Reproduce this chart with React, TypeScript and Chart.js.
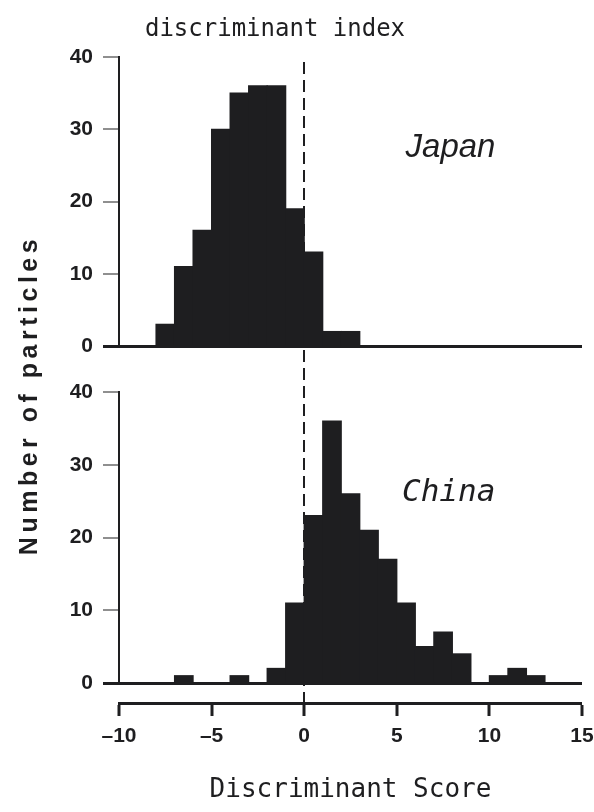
import React, { useEffect, useRef } from "react";
import { Chart, registerables } from "chart.js";

Chart.register(...registerables);

// Histogram bins (left edge of each unit-wide bin)
const binStarts = [-10, -9, -8, -7, -6, -5, -4, -3, -2, -1, 0, 1, 2, 3, 4, 5, 6, 7, 8, 9, 10, 11, 12, 13, 14];
// Number of particles per bin
const japanCounts = [0, 0, 3, 11, 16, 30, 35, 36, 36, 19, 13, 2, 2, 0, 0, 0, 0, 0, 0, 0, 0, 0, 0, 0, 0];
const chinaCounts = [0, 0, 0, 1, 0, 0, 1, 0, 2, 11, 23, 36, 26, 21, 17, 11, 5, 7, 4, 0, 1, 2, 1, 0, 0];

const xMin = -10;
const xMax = 15;
const yMin = 0;
const yMax = 40;
const chartTitle = "discriminant index";
const xTitle = "Discriminant Score";
const yTitle = "Number of particles";
const panelLabels = [
  { text: "Japan", axis: "yJ", x: 7.9, y: 27.4 },
  { text: "China", axis: "yC", x: 7.8, y: 26.1 },
];

const INK = "#1e1e20";
const tickFont = {
  family: "'Liberation Sans', Arial, sans-serif",
  weight: "bold" as const,
  size: 21,
};

const isZero = (ctx: any) => ctx && ctx.tick && ctx.tick.value === 0;

const freeText = {
  id: "freeText",
  afterDraw(chart: any) {
    const { ctx, scales } = chart;
    ctx.save();
    ctx.fillStyle = INK;
    ctx.textAlign = "center";
    ctx.textBaseline = "middle";

    ctx.font = "24px 'DejaVu Sans Mono', monospace";
    ctx.fillText(chartTitle, 275, 30);

    panelLabels.forEach((p) => {
      ctx.font =
        p.text === "Japan"
          ? "italic 33px 'Liberation Sans', Arial, sans-serif"
          : "italic 31px 'DejaVu Sans Mono', monospace";
      ctx.fillText(p.text, scales.x.getPixelForValue(p.x), scales[p.axis].getPixelForValue(p.y));
    });

    ctx.translate(30, 395);
    ctx.rotate(-Math.PI / 2);
    ctx.font = "bold 25px 'Liberation Sans', Arial, sans-serif";
    try {
      (ctx as any).letterSpacing = "4.5px";
    } catch (e) {}
    ctx.fillText(yTitle, 0, 0);
    ctx.restore();
  },
};

function panelAxis(weight: number) {
  return {
    type: "linear" as const,
    position: "left" as const,
    stack: "v",
    stackWeight: weight,
    min: yMin,
    max: yMax,
    ticks: { stepSize: 10, padding: 10, font: tickFont, color: INK },
    grid: {
      drawOnChartArea: true,
      color: (ctx: any) => (isZero(ctx) ? INK : "rgba(0,0,0,0)"),
      lineWidth: (ctx: any) => (isZero(ctx) ? 3 : 0),
      tickColor: (ctx: any) => (isZero(ctx) ? INK : "#6a6a6a"),
      tickWidth: (ctx: any) => (isZero(ctx) ? 3 : 1.5),
      tickLength: 16,
    },
    border: { display: true, color: INK, width: 2 },
    afterFit: (s: any) => {
      s.width = 119;
    },
  };
}

function spacerAxis(weight: number) {
  return {
    type: "linear" as const,
    position: "left" as const,
    stack: "v",
    stackWeight: weight,
    ticks: { display: false },
    grid: { display: false },
    border: { display: false },
    afterFit: (s: any) => {
      s.width = 119;
    },
  };
}

export default function App() {
  const canvasRef = useRef<HTMLCanvasElement | null>(null);

  useEffect(() => {
    if (!canvasRef.current) return;
    const common = {
      type: "bar" as const,
      backgroundColor: INK,
      borderWidth: 0,
      inflateAmount: 0.6,
      barPercentage: 1,
      categoryPercentage: 1,
      grouped: false,
      xAxisID: "x",
    };
    const chart = new Chart(canvasRef.current, {
      type: "bar",
      data: {
        datasets: [
          {
            ...common,
            label: "Japan",
            yAxisID: "yJ",
            data: binStarts.map((b, i) => ({ x: b + 0.5, y: japanCounts[i] })),
          },
          {
            ...common,
            label: "China",
            yAxisID: "yC",
            data: binStarts.map((b, i) => ({ x: b + 0.5, y: chinaCounts[i] })),
          },
        ],
      } as any,
      options: {
        animation: false,
        responsive: false,
        events: [],
        layout: { padding: { top: 57, right: 12, left: 0, bottom: 0 } },
        plugins: {
          legend: { display: false },
          title: { display: false },
          tooltip: { enabled: false },
        },
        scales: {
          x: {
            type: "linear",
            position: "bottom",
            min: xMin,
            max: xMax,
            offset: false,
            ticks: {
              stepSize: 5,
              padding: 8,
              maxRotation: 0,
              font: tickFont,
              color: INK,
              callback: (v: any) => (Number(v) < 0 ? "\u2013" + Math.abs(Number(v)) : String(v)),
            },
            grid: {
              offset: false,
              drawOnChartArea: true,
              color: (ctx: any) => (isZero(ctx) ? INK : "rgba(0,0,0,0)"),
              lineWidth: (ctx: any) => (isZero(ctx) ? 2 : 0),
              tickBorderDash: [],
              tickColor: INK,
              tickWidth: 3,
              tickLength: 13,
            },
            border: { display: true, color: INK, width: 3, dash: [12, 6], dashOffset: 13 },
            title: {
              display: true,
              text: xTitle,
              color: INK,
              font: { family: "'DejaVu Sans Mono', monospace", size: 26, weight: "normal" },
              padding: { top: 0, bottom: 6 },
            },
            afterFit: (s: any) => {
              s.height = 109;
              s.paddingLeft = 0;
              s.paddingRight = 0;
            },
          },
          yBot: spacerAxis(20),
          yC: panelAxis(291),
          yMid: spacerAxis(46),
          yJ: panelAxis(289),
        } as any,
      },
      plugins: [freeText],
    } as any);
    return () => chart.destroy();
  }, []);

  return (
    <div style={{ position: "fixed", left: 0, top: 0, width: 594, height: 812, background: "#fff" }}>
      <canvas ref={canvasRef} width={594} height={812} style={{ display: "block" }} />
    </div>
  );
}
